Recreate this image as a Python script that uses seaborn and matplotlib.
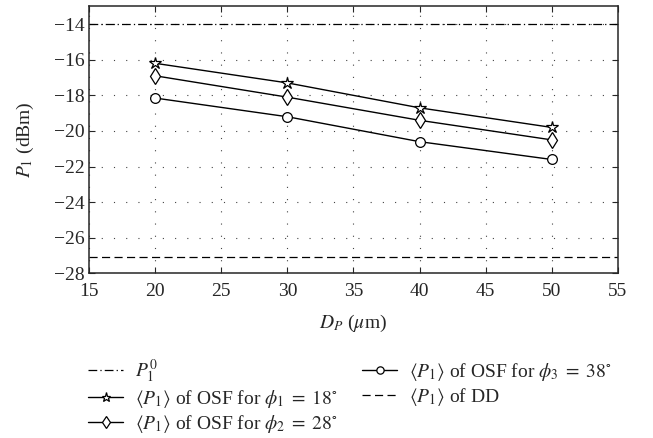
import numpy as np
import pandas as pd
import matplotlib
matplotlib.use("Agg")
import matplotlib.pyplot as plt
import seaborn as sns

# Data
dp = [20, 30, 40, 50]
p_phi1 = [-16.2, -17.3, -18.7, -19.8]
p_phi2 = [-16.9, -18.1, -19.4, -20.5]
p_phi3 = [-18.15, -19.2, -20.6, -21.6]
p1_zero = -14.0
p1_dd = -27.1

sns.set_style("ticks")
plt.rcParams['font.family'] = ['Liberation Serif', 'DejaVu Serif']
plt.rcParams['mathtext.fontset'] = 'stix'
plt.rcParams['xtick.direction'] = 'in'
plt.rcParams['ytick.direction'] = 'in'

fs = 14
fig = plt.figure(figsize=(6.53, 4.38), dpi=100)
ax = fig.add_axes([0.1363, 0.3756, 0.81, 0.61])

ax.axhline(p1_zero, color='black', lw=0.9, ls=(0, (7, 2.5, 1, 2.5)), label=r'$P_1^0$')

series = [
    (p_phi1, '*', 9, r'$\langle P_1\rangle$ of OSF for $\phi_1\;=\;18^{\circ}$'),
    (p_phi2, 'd', 8, r'$\langle P_1\rangle$ of OSF for $\phi_2\;=\;28^{\circ}$'),
    (p_phi3, 'o', 7, r'$\langle P_1\rangle$ of OSF for $\phi_3\;=\;38^{\circ}$'),
]
for vals, mk, ms, lab in series:
    df = pd.DataFrame({'x': dp, 'y': vals})
    sns.lineplot(data=df, x='x', y='y', ax=ax, color='black', lw=1.0,
                 marker=mk, markersize=ms,
                 markerfacecolor='white', markeredgecolor='black',
                 markeredgewidth=0.9, label=lab)

ax.axhline(p1_dd, color='black', lw=0.9, ls=(0, (6.5, 3.5)), label=r'$\langle P_1\rangle$ of DD')

ax.set_xlim(15, 55)
ax.set_ylim(-28, -13)
ax.set_xticks(np.arange(15, 56, 5))
ax.set_yticks(np.arange(-28, -13, 2))
ax.grid(True, color='#444444', ls=(0, (1, 10)), lw=0.8)
for s in ax.spines.values():
    s.set_linewidth(1.1)
    s.set_visible(True)
ax.tick_params(labelsize=fs, length=4, top=True, right=True)
ax.tick_params(axis='x', pad=7)
ax.tick_params(axis='y', pad=3)
ax.set_xlabel(r'$D_P$ ($\mu$m)', fontsize=fs, labelpad=9)
ax.set_ylabel(r'$P_1$ (dBm)', fontsize=fs, labelpad=13)

h, l = ax.get_legend_handles_labels()
ax.get_legend().remove()
fig.legend(h, l, loc='upper left', bbox_to_anchor=(0.135, 0.184), ncol=2,
           frameon=False, fontsize=fs, handlelength=1.8, columnspacing=1.3,
           labelspacing=0.15, handletextpad=0.6, markerscale=0.75,
           borderpad=0, borderaxespad=0)

fig.savefig('out.png', dpi=100)
